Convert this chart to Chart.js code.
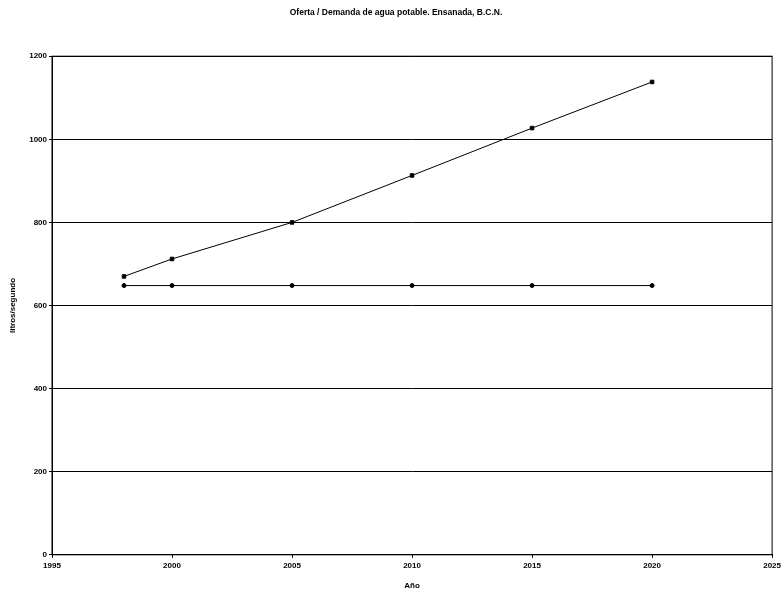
<!DOCTYPE html>
<html>
<head>
<meta charset="utf-8">
<script src="https://cdn.jsdelivr.net/npm/chart.js@4/dist/chart.umd.min.js"></script>
<style>
  body { margin: 0; background: #fff; }
  #wrap { width: 784px; height: 597px; }
</style>
</head>
<body>
<div id="wrap"><canvas id="myChart"></canvas></div>
<script>
// data
var years = [1998, 2000, 2005, 2010, 2015, 2020];
var demanda = [670, 712, 800, 913, 1027, 1138];
var oferta = [648, 648, 648, 648, 648, 648];

function pts(xs, ys) {
    return xs.map(function (x, i) { return { x: x, y: ys[i] }; });
}

// plain numbers, no thousands separator
function plain(v) { return String(v); }

Chart.defaults.color = '#000';
Chart.defaults.font.family = '"Liberation Sans", Arial, sans-serif';
Chart.defaults.font.size = 8;
Chart.defaults.font.weight = 'bold';

// box round the plot area
var frame = {
    id: 'frame',
    afterDraw: function (chart) {
        var a = chart.chartArea, c = chart.ctx;
        c.save();
        c.strokeStyle = '#000';
        c.lineWidth = 1;
        c.strokeRect(a.left, a.top, a.right - a.left, a.bottom - a.top);
        c.restore();
    }
};

var ctx = document.getElementById('myChart').getContext('2d');
var myChart = new Chart(ctx, {
    type: 'scatter',
    data: {
        datasets: [{
            label: 'Demanda',
            data: pts(years, demanda),
            showLine: true,
            borderColor: '#000',
            backgroundColor: '#000',
            borderWidth: 1,
            pointStyle: 'rect',
            pointRadius: 2.5
        }, {
            label: 'Oferta',
            data: pts(years, oferta),
            showLine: true,
            borderColor: '#000',
            backgroundColor: '#000',
            borderWidth: 1,
            pointStyle: 'circle',
            pointRadius: 2
        }]
    },
    options: {
        responsive: true,
        maintainAspectRatio: false,
        animation: false,
        layout: { padding: { left: 8, right: 0, top: 0, bottom: 6 } },
        plugins: {
            legend: { display: false },
            tooltip: { enabled: false },
            title: {
                display: true,
                text: 'Oferta / Demanda de agua potable. Ensanada, B.C.N.',
                font: { size: 8.5, weight: 'bold' },
                padding: { top: 8, bottom: 38 }
            }
        },
        scales: {
            x: {
                type: 'linear',
                min: 1995,
                max: 2025,
                ticks: { stepSize: 5, padding: 3, callback: plain },
                grid: { drawOnChartArea: false, color: '#000', tickLength: 3 },
                border: { color: '#000' },
                title: { display: true, text: 'Año', font: { size: 8, weight: 'bold' }, padding: { top: 8, bottom: 0 } }
            },
            y: {
                min: 0,
                max: 1200,
                ticks: { stepSize: 200, padding: 2, callback: plain },
                grid: { color: '#000', tickLength: 3 },
                border: { color: '#000' },
                title: { display: true, text: 'litros/segundo', font: { size: 8, weight: 'bold' }, padding: 0 },
                afterFit: function (s) { s.width = 44; }
            }
        }
    },
    plugins: [frame]
});
</script>
</body>
</html>
